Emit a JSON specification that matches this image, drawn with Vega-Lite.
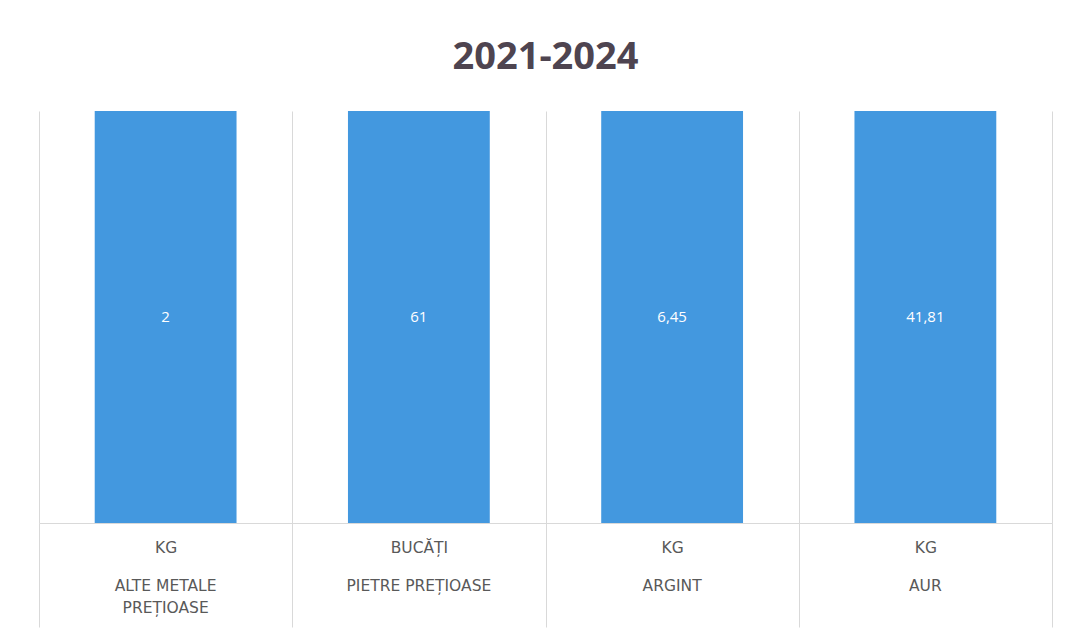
{
  "$schema": "https://vega.github.io/schema/vega-lite/v6.json",
  "width": 1013,
  "height": 412,
  "padding": {"left": 38, "top": 39, "right": 17, "bottom": 0},
  "background": "white",
  "config": {
    "view": {"stroke": null},
    "locale": {"number": {"decimal": ",", "thousands": ".", "grouping": [3], "currency": ["", " lei"]}},
    "axis": {"labelFont": "DejaVu Sans", "labelFontSize": 15.5, "labelColor": "#595959", "labelAngle": 0, "labelLimit": 300, "title": null}
  },
  "title": {
    "text": "2021-2024",
    "font": "Open Sans",
    "fontSize": 38,
    "fontWeight": "bold",
    "color": "#4e4450",
    "anchor": "middle",
    "offset": 34
  },
  "data": {
    "values": [
      {"category": "KG|ALTE METALE|PREȚIOASE", "unit": "KG", "name": "ALTE METALE PREȚIOASE", "value": 2},
      {"category": "BUCĂȚI|PIETRE PREȚIOASE", "unit": "BUCĂȚI", "name": "PIETRE PREȚIOASE", "value": 61},
      {"category": "KG|ARGINT", "unit": "KG", "name": "ARGINT", "value": 6.45},
      {"category": "KG|AUR", "unit": "KG", "name": "AUR", "value": 41.81}
    ]
  },
  "resolve": {"axis": {"x": "independent"}},
  "layer": [
    {
      "mark": {"type": "bar", "color": "#4398df", "width": {"band": 0.56}},
      "encoding": {
        "x": {
          "field": "category",
          "type": "nominal",
          "sort": null,
          "scale": {"paddingInner": 0, "paddingOuter": 0},
          "axis": {
            "orient": "bottom",
            "labelExpr": "split(datum.label, '|')[0]",
            "labelPadding": -87,
            "labelBaseline": "top",
            "tickBand": "extent",
            "tickSize": 104,
            "tickColor": "#d9d9d9",
            "domainColor": "#d9d9d9",
            "grid": true,
            "gridColor": "#d9d9d9"
          }
        },
        "y": {"field": "value", "type": "quantitative", "stack": "normalize", "axis": null}
      }
    },
    {
      "mark": {"type": "text", "color": "white", "font": "Open Sans", "fontSize": 15},
      "encoding": {
        "x": {
          "field": "category",
          "type": "nominal",
          "sort": null,
          "axis": {
            "orient": "bottom",
            "labelExpr": "slice(split(datum.label, '|'), 1)",
            "labelPadding": 55,
            "labelBaseline": "top",
            "labelLineHeight": 22,
            "ticks": false,
            "domain": false,
            "grid": false
          }
        },
        "y": {"datum": 0.5, "type": "quantitative"},
        "text": {"field": "value", "type": "quantitative", "format": ".4~g"}
      }
    }
  ]
}
